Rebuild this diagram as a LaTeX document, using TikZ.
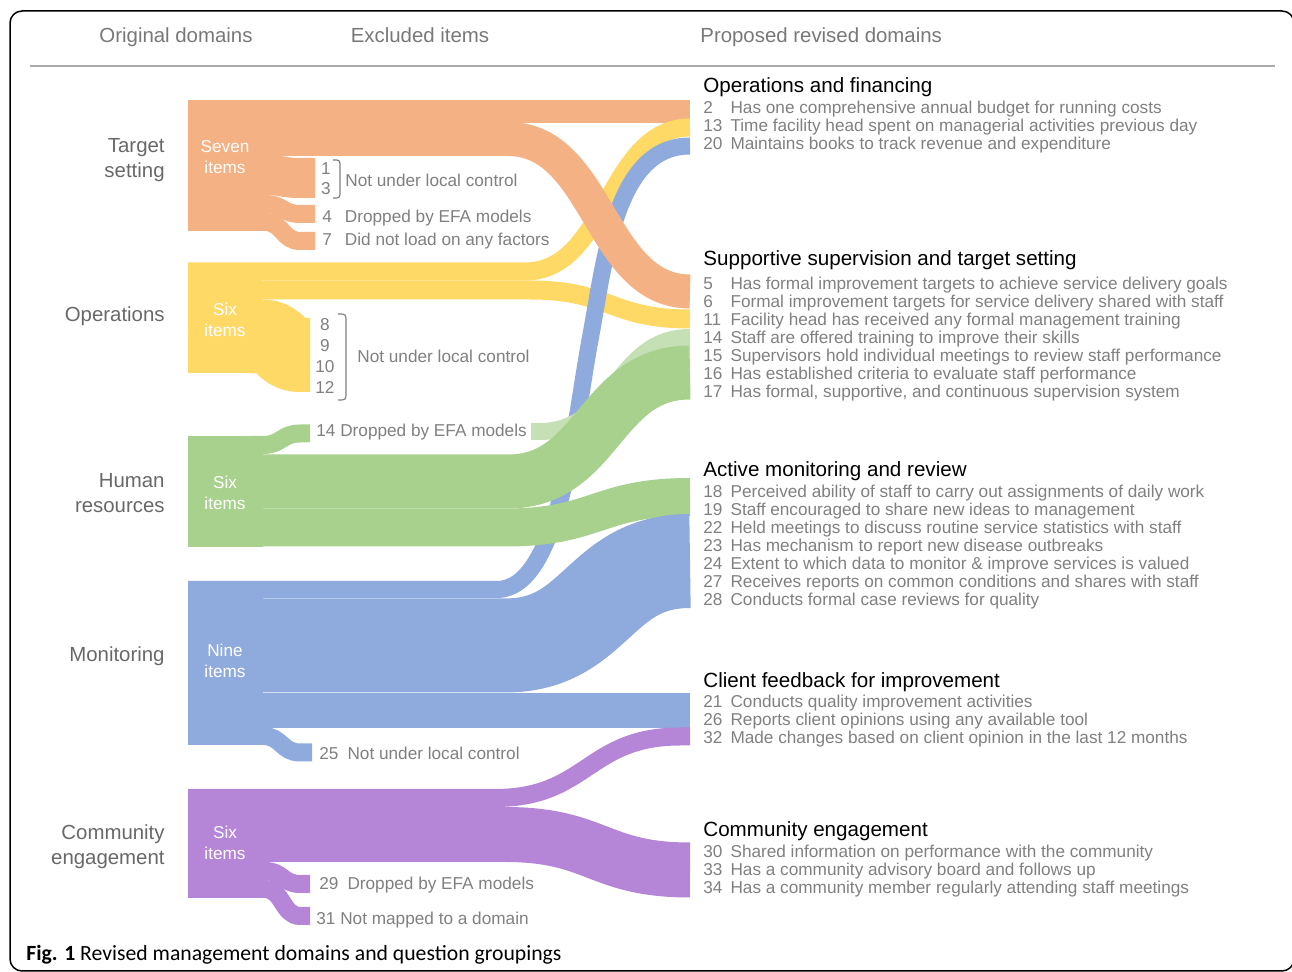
\documentclass[tikz,border=0pt]{standalone}
\usepackage{fontspec}
\setmainfont{Liberation Sans}
\newfontfamily\capfont{Carlito}
\definecolor{orangeC}{HTML}{F4B183}
\definecolor{yellowC}{HTML}{FFD966}
\definecolor{greenC}{HTML}{A9D18E}
\definecolor{lgreenC}{HTML}{C5E0B4}
\definecolor{blueC}{HTML}{8FAADC}
\definecolor{purpleC}{HTML}{B585D8}
\definecolor{hdrgray}{HTML}{787878}
\definecolor{domgray}{HTML}{686868}
\definecolor{itmgray}{HTML}{808080}
\definecolor{rulegray}{HTML}{AAAAAA}
% colour, width (px), x start, curve start, curve end, x end, y left, y right
\newcommand{\band}[8]{%
  \draw[#1, line width=#2*0.5pt] (#3,#7) -- (#4,#7)
    .. controls ({(#4+#5)/2},#7) and ({(#4+#5)/2},#8) .. (#5,#8) -- (#6,#8);}
\begin{document}
\begin{tikzpicture}[x=0.5pt, y=-0.5pt,
  hdr/.style={text=hdrgray, font=\fontsize{10.2}{12.5}\selectfont, inner sep=0},
  dom/.style={text=domgray, font=\fontsize{10.2}{12.5}\selectfont, inner sep=0, anchor=base east},
  cnt/.style={text=white, font=\fontsize{8.6}{10.5}\selectfont, inner sep=0, anchor=base},
  exc/.style={text=itmgray, font=\fontsize{8.6}{10.5}\selectfont, inner sep=0, anchor=base west},
  ttl/.style={text=black, font=\fontsize{10.3}{12}\selectfont, inner sep=0, anchor=base west},
  itm/.style={text=itmgray, font=\fontsize{8.6}{9}\selectfont, inner sep=0, anchor=base west},
  brk/.style={draw=itmgray, line width=0.6pt}]
\useasboundingbox (0,0) rectangle (1292,972);
\draw[line width=0.75pt, rounded corners=6pt] (10,11) rectangle (1294,971);

% headers
\node[hdr, anchor=base] (hOrig) at (176,43) {Original domains};
\node[hdr, anchor=base] (hExcl) at (420,43) {Excluded items};
\node[hdr, anchor=base west] (hProp) at (700,43) {Proposed revised domains};
\draw[rulegray, line width=1pt] (30,66) -- (1275,66);

% target setting, top band
\fill[orangeC] (188,100) rectangle (690,123);
% operations
\band{yellowC}{18}{188}{525}{690}{690}{271.5}{127.5}
\band{yellowC}{19}{188}{530}{690}{690}{290}{319}
\band{yellowC}{74}{250}{262}{300}{310}{336.5}{355}
\fill[yellowC] (188,263) rectangle (262,373);
% item 20
\draw[blueC, line width=8.5pt] (188,589.5) -- (497,589.5)
  .. controls (560,589.5) and (575,420) .. (590,340)
  .. controls (605,260) and (615,146) .. (690,146);
% target setting
\band{orangeC}{34}{188}{508}{690}{690}{139}{291.5}
\band{orangeC}{40}{250}{265}{300}{315}{175}{178}
\band{orangeC}{18}{250}{265}{300}{315}{204}{214}
\band{orangeC}{18}{250}{265}{300}{315}{222}{241}
\fill[orangeC] (188,100) rectangle (265,231);
% human resources
\band{greenC}{18}{250}{263}{300}{310}{445}{433.5}
\band{lgreenC}{17}{531}{540}{690}{690}{431.5}{337.5}
\band{greenC}{54}{188}{508}{690}{690}{481.5}{372.5}
\band{greenC}{38}{188}{505}{690}{690}{527.5}{497}
\fill[greenC] (188,436) rectangle (263,547);
% monitoring
\band{blueC}{94}{188}{505}{690}{690}{645.5}{561}
\fill[blueC] (188,693) rectangle (690,728);
\band{blueC}{18}{250}{263}{300}{312}{736}{752.5}
\fill[blueC] (188,581) rectangle (263,745);
% community engagement
\band{purpleC}{18}{188}{495}{680}{690}{798}{736.5}
\band{purpleC}{55}{188}{505}{690}{690}{834.5}{870}
\band{purpleC}{18}{250}{265}{300}{310}{871}{884}
\band{purpleC}{18}{250}{265}{300}{310}{889}{916}
\fill[purpleC] (188,789) rectangle (265,898);

% original domains
\foreach \n/\y/\t in {dTS/153/Target\\setting, dOP/322/Operations,
    dHR/488/Human\\resources, dMO/662/Monitoring, dCE/840/Community\\engagement}
  \node[dom] (\n) at (165,\y) {\begin{tabular}[t]{@{}r@{}}\t\end{tabular}};
\foreach \n/\y/\w in {cTS/153/Seven, cOP/316/Six, cHR/489/Six, cMO/657/Nine, cCE/839/Six}
  \node[cnt] (\n) at (225,\y) {\begin{tabular}[t]{@{}c@{}}\w\\items\end{tabular}};

% excluded items
\node[exc, anchor=base, font=\fontsize{8.6}{10}\selectfont] (x13) at (326,175)
  {\begin{tabular}[t]{@{}c@{}}1\\3\end{tabular}};
\draw[brk] (333,160) .. controls (340,160) .. (340,167) -- (340,191) .. controls (340,198) .. (333,198);
\node[exc] (x13t) at (345,187) {Not under local control};
\node[exc] (x4) at (322,223) {4\hspace{6.5pt}Dropped by EFA models};
\node[exc] (x7) at (322,246) {7\hspace{6.5pt}Did not load on any factors};
\node[exc, anchor=base] (x8) at (325,331)
  {\begin{tabular}[t]{@{}c@{}}8\\9\\10\\12\end{tabular}};
\draw[brk] (338,314) .. controls (346,314) .. (346,322) -- (346,392) .. controls (346,400) .. (338,400);
\node[exc] (x8t) at (357,363) {Not under local control};
\node[exc] (x14) at (316,437) {14 Dropped by EFA models};
\node[exc] (x25) at (319,760) {25\hspace{4.5pt}Not under local control};
\node[exc] (x29) at (319,890) {29\hspace{4.5pt}Dropped by EFA models};
\node[exc] (x31) at (316,925) {31 Not mapped to a domain};

% proposed revised domains
\node[ttl] (tOF) at (703,93) {Operations and financing};
\node[itm] (iOF) at (703,114) {\begin{tabular}[t]{@{}l@{\hspace{4pt}}l@{}}
  2 & Has one comprehensive annual budget for running costs\\
  13 & Time facility head spent on managerial activities previous day\\
  20 & Maintains books to track revenue and expenditure\end{tabular}};
\node[ttl] (tSS) at (703,266) {Supportive supervision and target setting};
\node[itm] (iSS) at (703,290) {\begin{tabular}[t]{@{}l@{\hspace{4pt}}l@{}}
  5 & Has formal improvement targets to achieve service delivery goals\\
  6 & Formal improvement targets for service delivery shared with staff\\
  11 & Facility head has received any formal management training\\
  14 & Staff are offered training to improve their skills\\
  15 & Supervisors hold individual meetings to review staff performance\\
  16 & Has established criteria to evaluate staff performance\\
  17 & Has formal, supportive, and continuous supervision system\end{tabular}};
\node[ttl] (tAM) at (703,477) {Active monitoring and review};
\node[itm] (iAM) at (703,498) {\begin{tabular}[t]{@{}l@{\hspace{4pt}}l@{}}
  18 & Perceived ability of staff to carry out assignments of daily work\\
  19 & Staff encouraged to share new ideas to management\\
  22 & Held meetings to discuss routine service statistics with staff\\
  23 & Has mechanism to report new disease outbreaks\\
  24 & Extent to which data to monitor \& improve services is valued\\
  27 & Receives reports on common conditions and shares with staff\\
  28 & Conducts formal case reviews for quality\end{tabular}};
\node[ttl] (tCF) at (703,688) {Client feedback for improvement};
\node[itm] (iCF) at (703,708) {\begin{tabular}[t]{@{}l@{\hspace{4pt}}l@{}}
  21 & Conducts quality improvement activities\\
  26 & Reports client opinions using any available tool\\
  32 & Made changes based on client opinion in the last 12 months\end{tabular}};
\node[ttl] (tCE) at (703,837) {Community engagement};
\node[itm] (iCE) at (703,858) {\begin{tabular}[t]{@{}l@{\hspace{4pt}}l@{}}
  30 & Shared information on performance with the community\\
  33 & Has a community advisory board and follows up\\
  34 & Has a community member regularly attending staff meetings\end{tabular}};

% caption
\node[anchor=base west, inner sep=0, font=\capfont\fontsize{10.85}{13}\selectfont] (cap) at (26,961)
  {\textbf{Fig. 1} Revised management domains and question groupings};
\end{tikzpicture}
\end{document}
